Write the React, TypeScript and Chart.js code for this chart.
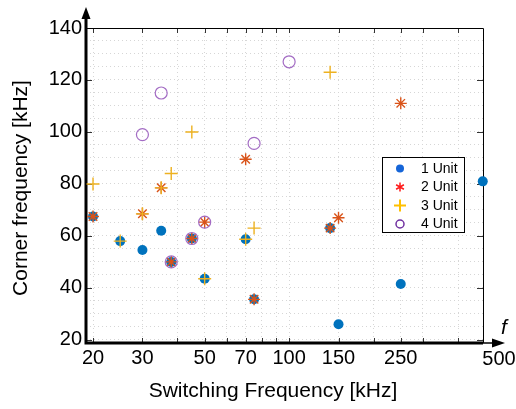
import React, { useEffect, useRef } from 'react';
import { Chart, registerables } from 'chart.js';

Chart.register(...registerables);

// ---- data ----
const seriesNames = ['1 Unit', '2 Unit', '3 Unit', '4 Unit'];
const unit1X = [20, 25, 30, 35, 38, 45, 50, 70, 75, 140, 150, 250, 490];
const unit1Y = [67.5, 58, 54.6, 62, 50, 59, 43.5, 58.7, 35.6, 63, 26, 41.5, 81];
const unit2X = [20, 30, 35, 38, 45, 50, 70, 75, 140, 150, 250];
const unit2Y = [67.5, 68.5, 78.5, 50, 59, 65.3, 89.5, 35.6, 63, 67, 111];
const unit3X = [20, 25, 30, 35, 38, 45, 50, 70, 75, 140];
const unit3Y = [80, 58, 68.5, 78.5, 84, 100, 43.5, 58.7, 63, 123];
const unit4X = [30, 35, 38, 45, 50, 75, 100];
const unit4Y = [99, 115, 50, 59, 65.3, 95.6, 127];

const xTickLabels = [20, 30, 50, 70, 100, 150, 250];
const xEndLabel = '500';
const xGridTicks = [20, 30, 40, 50, 60, 70, 80, 90, 100, 150, 200, 250, 300, 400];
const yTickLabels = [20, 40, 60, 80, 100, 120, 140];
const xTitle = 'Switching Frequency [kHz]';
const yTitle = 'Corner frequency [kHz]';
const xSymbol = 'f';

const FONT = "'Liberation Sans', Arial, sans-serif";

const zip = (xs: number[], ys: number[]) => xs.map((x, i) => ({ x, y: ys[i] }));

const decor = {
  id: 'decor',
  beforeDatasetsDraw(chart: any) {
    const { ctx, chartArea: a, scales } = chart;
    const x = scales.x, y = scales.y;
    ctx.save();
    // tick marks (inward)
    ctx.strokeStyle = '#333';
    ctx.lineWidth = 1;
    ctx.beginPath();
    xGridTicks.forEach((t) => {
      const px = Math.round(x.getPixelForValue(t)) + 0.5;
      ctx.moveTo(px, a.bottom);
      ctx.lineTo(px, a.bottom - 5);
      ctx.moveTo(px, a.top);
      ctx.lineTo(px, a.top + 5);
    });
    yTickLabels.forEach((v) => {
      const py = Math.round(y.getPixelForValue(v)) + 0.5;
      ctx.moveTo(a.left, py);
      ctx.lineTo(a.left + 6, py);
      ctx.moveTo(a.right, py);
      ctx.lineTo(a.right - 6, py);
    });
    ctx.stroke();
    // top & right border
    ctx.strokeStyle = '#000';
    ctx.lineWidth = 1;
    ctx.beginPath();
    ctx.moveTo(a.left, a.top + 0.5);
    ctx.lineTo(a.right + 0.5, a.top + 0.5);
    ctx.lineTo(a.right + 0.5, a.bottom);
    ctx.stroke();
    // thick axes
    ctx.lineWidth = 3;
    ctx.beginPath();
    ctx.moveTo(a.left, a.bottom + 1.5);
    ctx.lineTo(a.left, 16);
    ctx.moveTo(a.left - 1.5, a.bottom);
    ctx.lineTo(a.right, a.bottom);
    ctx.stroke();
    ctx.lineWidth = 1.5;
    ctx.beginPath();
    ctx.moveTo(a.right, a.bottom);
    ctx.lineTo(496, a.bottom);
    ctx.stroke();
    // arrowheads
    ctx.fillStyle = '#000';
    ctx.beginPath();
    ctx.moveTo(a.left, 7);
    ctx.lineTo(a.left - 4.5, 19);
    ctx.lineTo(a.left + 4.5, 19);
    ctx.closePath();
    ctx.fill();
    ctx.beginPath();
    ctx.moveTo(505, a.bottom);
    ctx.lineTo(492, a.bottom - 4.5);
    ctx.lineTo(492, a.bottom + 4.5);
    ctx.closePath();
    ctx.fill();
    ctx.restore();
  },
  afterDraw(chart: any) {
    const { ctx, chartArea: a } = chart;
    ctx.save();
    ctx.fillStyle = '#000';
    // axis titles
    ctx.font = `21px ${FONT}`;
    ctx.textAlign = 'center';
    ctx.textBaseline = 'middle';
    ctx.fillText(xTitle, 273, 391);
    ctx.save();
    ctx.translate(21, 188);
    ctx.rotate(-Math.PI / 2);
    ctx.fillText(yTitle, 0, 0);
    ctx.restore();
    // end label and symbol
    ctx.font = `20px ${FONT}`;
    ctx.fillText(xEndLabel, 499, 359);
    ctx.font = `italic 21px ${FONT}`;
    ctx.fillText(xSymbol, 504, 328);

    // legend
    const lx = 382, ly = 157, lw = 82, lh = 75;
    ctx.fillStyle = '#fff';
    ctx.fillRect(lx, ly, lw, lh);
    ctx.strokeStyle = '#000';
    ctx.lineWidth = 1;
    ctx.strokeRect(lx + 0.5, ly + 0.5, lw, lh);
    const rows = [168.5, 187, 205.5, 224];
    const mx = 400;
    ctx.font = `14px ${FONT}`;
    ctx.textAlign = 'left';
    ctx.textBaseline = 'middle';
    seriesNames.forEach((name, i) => {
      const cy = rows[i];
      ctx.fillStyle = '#000';
      ctx.fillText(name, 421, cy + 0.5);
      ctx.lineWidth = 1.5;
      if (i === 0) {
        ctx.fillStyle = '#1565d8';
        ctx.beginPath();
        ctx.arc(mx, cy, 4, 0, Math.PI * 2);
        ctx.fill();
      } else if (i === 1) {
        ctx.strokeStyle = '#ff1a1a';
        ctx.beginPath();
        for (let k = 0; k < 3; k++) {
          const ang = Math.PI / 2 + (k * Math.PI) / 3;
          ctx.moveTo(mx + Math.cos(ang) * 4.5, cy + Math.sin(ang) * 4.5);
          ctx.lineTo(mx - Math.cos(ang) * 4.5, cy - Math.sin(ang) * 4.5);
        }
        ctx.stroke();
      } else if (i === 2) {
        ctx.strokeStyle = '#ffc000';
        ctx.lineWidth = 2;
        ctx.beginPath();
        ctx.moveTo(mx - 6, cy);
        ctx.lineTo(mx + 6, cy);
        ctx.moveTo(mx, cy - 6);
        ctx.lineTo(mx, cy + 6);
        ctx.stroke();
      } else {
        ctx.strokeStyle = '#7030a0';
        ctx.beginPath();
        ctx.arc(mx, cy, 4, 0, Math.PI * 2);
        ctx.stroke();
      }
    });
    ctx.restore();
  },
};

export default function App() {
  const ref = useRef<HTMLCanvasElement | null>(null);
  useEffect(() => {
    if (!ref.current) return;
    const chart = new Chart(ref.current, {
      type: 'scatter',
      data: {
        datasets: [
          {
            label: seriesNames[0],
            data: zip(unit1X, unit1Y),
            pointStyle: 'circle',
            pointRadius: 5,
            pointBackgroundColor: '#0072BD',
            pointBorderColor: '#0072BD',
            pointBorderWidth: 0,
            order: 4,
            clip: false,
          },
          {
            label: seriesNames[1],
            data: zip(unit2X, unit2Y),
            pointStyle: 'star',
            pointRadius: 6,
            pointBackgroundColor: 'transparent',
            pointBorderColor: '#D95319',
            pointBorderWidth: 1.4,
            order: 3,
            clip: false,
          },
          {
            label: seriesNames[2],
            data: zip(unit3X, unit3Y),
            pointStyle: 'cross',
            pointRadius: 6.5,
            pointBackgroundColor: 'transparent',
            pointBorderColor: '#EDB120',
            pointBorderWidth: 1.4,
            order: 2,
            clip: false,
          },
          {
            label: seriesNames[3],
            data: zip(unit4X, unit4Y),
            pointStyle: 'circle',
            pointRadius: 6,
            pointBackgroundColor: 'transparent',
            pointBorderColor: '#A36CC4',
            pointBorderWidth: 1.2,
            order: 1,
            clip: false,
          },
        ] as any,
      },
      options: {
        animation: false,
        responsive: false,
        devicePixelRatio: 1,
        events: [],
        layout: { padding: { left: 0, right: 33, top: 28, bottom: 0 } },
        plugins: { legend: { display: false }, tooltip: { enabled: false } },
        scales: {
          x: {
            type: 'logarithmic',
            min: 18.88,
            max: 491,
            afterBuildTicks: (s: any) => {
              s.ticks = xGridTicks.map((v) => ({ value: v }));
            },
            afterFit: (s: any) => {
              s.height = 66;
            },
            grid: { color: '#d6d6d6', lineWidth: 1, drawTicks: false },
            border: { display: false, dash: [1, 3] },
            ticks: {
              autoSkip: false,
              maxRotation: 0,
              padding: 3,
              color: '#000',
              font: { family: FONT, size: 20 },
              callback: (v: any) => (xTickLabels.includes(Number(v)) ? String(v) : ''),
            },
          },
          y: {
            type: 'linear',
            min: 18.8,
            max: 140,
            afterBuildTicks: (s: any) => {
              const t = [];
              for (let v = 20; v <= 140; v += 5) t.push({ value: v });
              s.ticks = t;
            },
            afterFit: (s: any) => {
              s.width = 86;
            },
            grid: { color: '#d6d6d6', lineWidth: 1, drawTicks: false },
            border: { display: false, dash: [1, 3] },
            ticks: {
              autoSkip: false,
              padding: 4,
              color: '#000',
              font: { family: FONT, size: 20 },
              callback: (v: any) => (yTickLabels.includes(Number(v)) ? String(v) : ''),
            },
          },
        },
      } as any,
      plugins: [decor],
    });
    return () => chart.destroy();
  }, []);
  return (
    <div style={{ position: 'absolute', left: 0, top: 0, width: 516, height: 409 }}>
      <canvas ref={ref} width={516} height={409} style={{ display: 'block' }} />
    </div>
  );
}
